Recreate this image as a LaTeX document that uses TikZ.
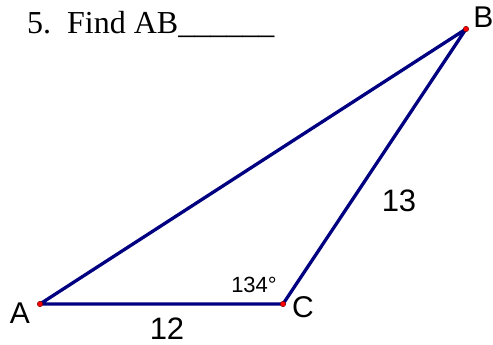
\documentclass[tikz,border=0pt]{standalone}
\usepackage{fontspec}
\setmainfont{Liberation Serif}
\newfontfamily\arialf{Liberation Sans}
\begin{document}
\begin{tikzpicture}[x=1pt,y=-1pt,
  seg/.style={draw={rgb,255:red,0;green,0;blue,128},line width=3.3pt},
  pt/.style={circle,fill=red,draw=black!60!red,line width=0.4pt,inner sep=0pt,minimum size=5.5pt},
  lbl/.style={font=\arialf\fontsize{30}{30}\selectfont,inner sep=0pt},
  num/.style={font=\arialf\fontsize{31}{31}\selectfont,inner sep=0pt},
  ang/.style={font=\arialf\fontsize{22}{22}\selectfont,inner sep=0pt}]
\useasboundingbox (0,0) rectangle (493,345);
\coordinate (A) at (40,304);
\coordinate (C) at (283,304);
\coordinate (B) at (466,29);
\draw[seg,line join=round] (A) -- (C) -- (B) -- cycle;
\node[pt] (pA) at (A) {};
\node[pt] (pB) at (B) {};
\node[pt] (pC) at (C) {};
\node[lbl] (lA) at (20,313) {A};
\node[lbl] (lC) at (303,307) {C};
\node[lbl] (lB) at (483.5,17) {B};
\node[ang] (la) at (254,285) {134°};
\node[num] (l12) at (167,329) {12};
\node[num] (l13) at (399,200.5) {13};
\node[anchor=base west,inner sep=0pt,font=\fontsize{32}{32}\selectfont] (t) at (27,34) {5.\ \ Find AB\_\_\_\_\_\_};
\end{tikzpicture}
\end{document}
